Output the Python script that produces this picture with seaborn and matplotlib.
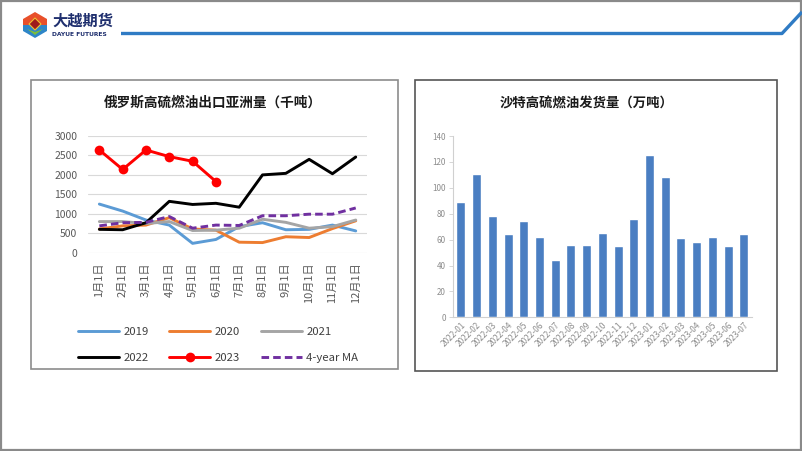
import matplotlib
matplotlib.use("Agg")
import matplotlib.pyplot as plt
import seaborn as sns
import pandas as pd
from matplotlib.patches import Rectangle, Polygon
from matplotlib.lines import Line2D

# ---------------- data ----------------
months = ["1月1日", "2月1日", "3月1日", "4月1日", "5月1日", "6月1日",
          "7月1日", "8月1日", "9月1日", "10月1日", "11月1日", "12月1日"]
y2019 = [1250, 1070, 840, 710, 240, 340, 670, 770, 590, 600, 710, 560]
y2020 = [610, 690, 710, 900, 610, 580, 270, 260, 410, 390, 620, 820]
y2021 = [800, 800, 750, 800, 570, 580, 630, 860, 780, 630, 670, 840]
y2022 = [600, 590, 770, 1320, 1240, 1270, 1170, 2000, 2040, 2400, 2030, 2460]
y2023 = [2640, 2140, 2640, 2470, 2350, 1830]
ma4 = [690, 770, 780, 930, 630, 710, 700, 950, 950, 990, 990, 1150]

periods = ["2022-01", "2022-02", "2022-03", "2022-04", "2022-05", "2022-06",
           "2022-07", "2022-08", "2022-09", "2022-10", "2022-11", "2022-12",
           "2023-01", "2023-02", "2023-03", "2023-04", "2023-05", "2023-06",
           "2023-07"]
saudi = [89, 111, 78, 64, 74, 62, 44, 56, 56, 65, 55, 76,
         125, 108, 61, 58, 62, 55, 64]

title_left = "俄罗斯高硫燃油出口亚洲量（千吨）"
title_right = "沙特高硫燃油发货量（万吨）"

# ---------------- style ----------------
sns.set_theme(style="white")
plt.rcParams['font.family'] = ['Noto Sans CJK SC', 'DejaVu Sans']

W, H = 802, 451
fig = plt.figure(figsize=(W / 100, H / 100), dpi=100)
fig.patch.set_facecolor("white")

bg = fig.add_axes([0, 0, 1, 1], zorder=0)
bg.set_xlim(0, W)
bg.set_ylim(H, 0)
bg.axis("off")


def fax(x0, y0, x1, y1):
    return fig.add_axes([x0 / W, 1 - y1 / H, (x1 - x0) / W, (y1 - y0) / H], zorder=2)


# outer frame
bg.add_patch(Rectangle((1, 1), W - 2, H - 2, fill=False, ec="#8a8a8a", lw=1.6))

# header line
bg.plot([121, 782, 802], [33.5, 33.5, 12], color="#2F7BC4", lw=2.4,
        solid_capstyle="butt", solid_joinstyle="round")

# logo
bg.add_patch(Polygon([(35, 12), (47, 19), (47, 25), (35, 25), (23, 25), (23, 19)],
                     closed=True, fc="#E8502A", ec="none"))
bg.add_patch(Polygon([(23, 25), (47, 25), (47, 31), (35, 38), (23, 31)],
                     closed=True, fc="#2E86C8", ec="none"))
bg.add_patch(Polygon([(35, 18), (41, 24), (35, 30), (29, 24)],
                     closed=True, fc="#9E1B1B", ec="#F2C230", lw=0.8))
bg.add_patch(Polygon([(27, 29), (35, 35), (43, 29), (35, 32)],
                     closed=True, fc="#7DBE3C", ec="none"))
bg.text(52, 21, "大越期货", fontsize=11, fontweight="bold", color="#1F2F6E",
        ha="left", va="center")
bg.text(52, 34, "DAYUE FUTURES", fontsize=4.3, fontweight="bold", color="#1F2F6E",
        ha="left", va="center", family=["DejaVu Sans"])

# panels
bg.add_patch(Rectangle((31, 80), 367, 289, fill=False, ec="#8c8c8c", lw=1.2))
bg.add_patch(Rectangle((415, 80), 362, 291, fill=False, ec="#555555", lw=1.2))

bg.text(213, 102.5, title_left, fontsize=9.8, fontweight="bold", color="#1a1a1a",
        ha="center", va="center")
bg.text(586.5, 104, title_right, fontsize=9.6, fontweight="bold", color="#1a1a1a",
        ha="center", va="center")

# ---------------- left chart ----------------
ax = fax(87.7, 136, 367.4, 252.7)
ax.set_facecolor("none")
xpos = list(range(1, 13))

series = [
    ("2019", y2019, "#5B9BD5", "-", None),
    ("2020", y2020, "#ED7D31", "-", None),
    ("2021", y2021, "#A5A5A5", "-", None),
    ("2022", y2022, "#000000", "-", None),
    ("2023", y2023, "#FF0000", "-", "o"),
    ("4-year MA", ma4, "#7030A0", "--", None),
]
handles = {}
for name, vals, col, ls, mk in series:
    df = pd.DataFrame({"x": xpos[:len(vals)], "y": vals})
    sns.lineplot(data=df, x="x", y="y", ax=ax, color=col, lw=2.1,
                 linestyle=ls, marker=mk, markersize=7 if mk else 0,
                 markeredgewidth=0, legend=False, zorder=3)
    ln = ax.get_lines()[-1]
    if ls == "--":
        ln.set_dashes((2.6, 1.4))
    ln.set_clip_on(False)
    h = Line2D([], [], color=col, lw=2.1, marker=mk, markersize=7,
               markeredgewidth=0)
    if ls == "--":
        h.set_dashes((2.6, 1.4))
    handles[name] = h

ax.set_xlim(0.5, 12.5)
ax.set_ylim(0, 3000)
ax.set_yticks(range(0, 3001, 500))
ax.set_xticks(xpos)
ax.set_xticklabels(months, rotation=90, fontsize=8, color="#595959")
ax.tick_params(axis="y", labelsize=7.5, labelcolor="#595959", length=0, pad=7.5)
ax.tick_params(axis="x", length=0, pad=7)
ax.grid(axis="y", color="#D9D9D9", lw=0.8)
ax.set_axisbelow(True)
for s in ax.spines.values():
    s.set_visible(False)
ax.set_xlabel("")
ax.set_ylabel("")

order = ["2019", "2022", "2020", "2023", "2021", "4-year MA"]
fig.legend([handles[k] for k in order], order, ncol=3, loc="upper left",
           bbox_to_anchor=(78 / W, 1 - 327 / H), frameon=False, borderpad=0,
           borderaxespad=0, fontsize=8.2, handlelength=3.6, handletextpad=0.4,
           columnspacing=1.8, labelspacing=1.4, labelcolor="#404040")

# ---------------- right chart ----------------
ax2 = fax(453, 136, 751.7, 317.3)
ax2.set_facecolor("none")
sns.barplot(x=periods, y=saudi, color="#4A7EC2", saturation=1, width=0.57,
            ax=ax2, zorder=3)
ax2.set_xlim(-0.5, 18.5)
ax2.set_ylim(0, 140)
ax2.set_yticks(range(0, 141, 20))
ax2.tick_params(axis="y", labelsize=5.8, labelcolor="#8c8c8c", length=3,
                color="#D0D0D0", width=0.6, pad=2, left=True)
ax2.tick_params(axis="x", length=0, pad=2.5)
for lab in ax2.get_xticklabels():
    lab.set_rotation(45)
    lab.set_ha("right")
    lab.set_rotation_mode("anchor")
    lab.set_fontsize(6.0)
    lab.set_color("#8c8c8c")
for side in ["top", "right"]:
    ax2.spines[side].set_visible(False)
for side in ["left", "bottom"]:
    ax2.spines[side].set_color("#D0D0D0")
    ax2.spines[side].set_linewidth(0.8)
ax2.set_xlabel("")
ax2.set_ylabel("")

fig.savefig("out.png", dpi=100)
